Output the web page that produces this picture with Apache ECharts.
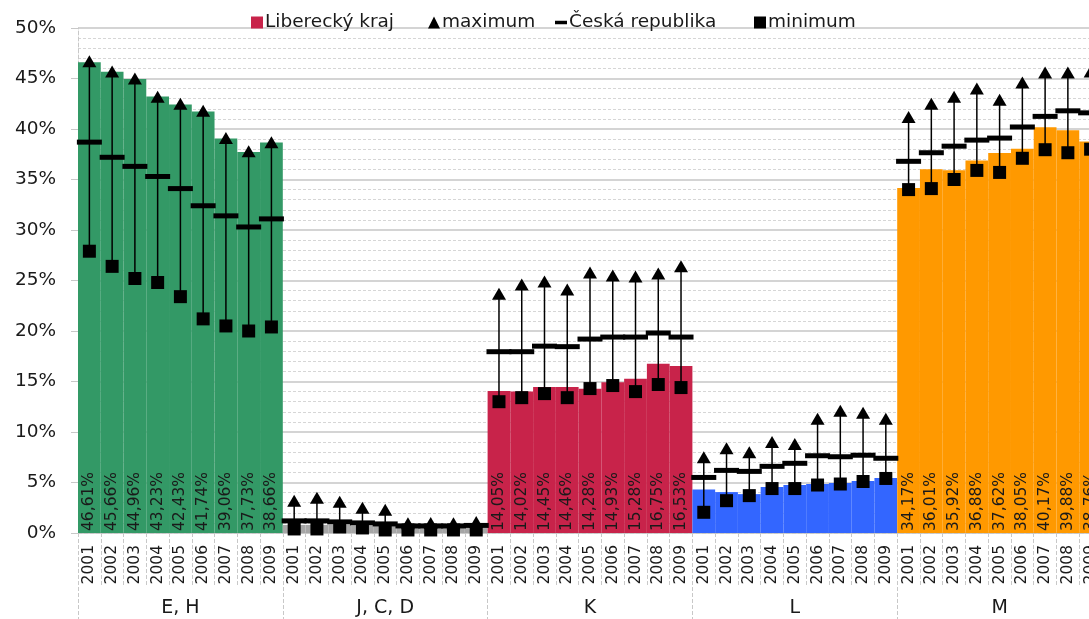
<!DOCTYPE html>
<html><head><meta charset="utf-8">
<script src="https://cdn.jsdelivr.net/npm/echarts@6/dist/echarts.min.js"></script>
<style>html,body{margin:0;padding:0;background:#fff;overflow:hidden}#c{width:1160px;height:619px}</style>
</head><body><div id="c"></div>
<script>
const years = ['2001','2002','2003','2004','2005','2006','2007','2008','2009'];
const groups = ['E, H','J, C, D','K','L','M'];
const yTicks = [0,5,10,15,20,25,30,35,40,45,50];
const seriesNames = ['Liberecký kraj','maximum','Česká republika','minimum'];

// Liberecký kraj
const liberec_EH  = [46.61,45.66,44.96,43.23,42.43,41.74,39.06,37.73,38.66];
const liberec_JCD = [0.8,0.8,0.8,0.7,0.7,0.5,0.5,0.5,0.5];
const liberec_K   = [14.05,14.02,14.45,14.46,14.28,14.93,15.28,16.75,16.53];
const liberec_L   = [4.3,4.05,3.85,4.55,4.75,4.85,4.95,5.15,5.45];
const liberec_M   = [34.17,36.01,35.92,36.88,37.62,38.05,40.17,39.88,38.76];

// maximum
const max_EH  = [46.7,45.7,45.0,43.2,42.5,41.8,39.1,37.8,38.7];
const max_JCD = [3.2,3.5,3.1,2.5,2.3,0.96,1.0,0.96,1.1];
const max_K   = [23.7,24.6,24.9,24.1,25.8,25.5,25.4,25.7,26.4];
const max_L   = [7.5,8.4,8.0,9.0,8.8,11.3,12.1,11.9,11.3];
const max_M   = [41.2,42.5,43.2,44.0,42.9,44.6,45.6,45.6,45.7];

// Česká republika
const cr_EH  = [38.7,37.2,36.3,35.3,34.1,32.4,31.4,30.3,31.1];
const cr_JCD = [1.2,1.2,1.1,1.0,0.9,0.7,0.7,0.7,0.75];
const cr_K   = [17.95,17.95,18.5,18.45,19.2,19.4,19.4,19.8,19.4];
const cr_L   = [5.5,6.2,6.1,6.6,6.9,7.65,7.55,7.7,7.4];
const cr_M   = [36.8,37.65,38.3,38.9,39.1,40.2,41.25,41.8,41.6];

// minimum
const min_EH  = [27.9,26.4,25.2,24.8,23.4,21.2,20.5,20.0,20.4];
const min_JCD = [0.4,0.4,0.6,0.5,0.3,0.3,0.3,0.3,0.3];
const min_K   = [13.0,13.4,13.8,13.4,14.3,14.6,14.0,14.7,14.4];
const min_L   = [2.05,3.2,3.7,4.4,4.4,4.75,4.85,5.1,5.4];
const min_M   = [34.0,34.1,35.0,35.9,35.7,37.1,37.95,37.65,38.0];

const liberec = [liberec_EH, liberec_JCD, liberec_K, liberec_L, liberec_M];
const maxs = [max_EH, max_JCD, max_K, max_L, max_M];
const crs = [cr_EH, cr_JCD, cr_K, cr_L, cr_M];
const mins = [min_EH, min_JCD, min_K, min_L, min_M];

const groupColors = ['#339966','#a6a6a6','#c8234a','#3366ff','#ff9900'];
const labeled = [true,false,true,false,true];

const cats = [];
groups.forEach(g => years.forEach(y => cats.push(g + '|' + y)));

const barData = [], maxData = [], crData = [], minData = [], errData = [];
groups.forEach((g, gi) => {
  years.forEach((y, yi) => {
    const idx = gi * 9 + yi;
    barData.push({
      value: liberec[gi][yi],
      itemStyle: { color: groupColors[gi] },
      label: { show: labeled[gi] }
    });
    maxData.push([idx, maxs[gi][yi]]);
    crData.push([idx, crs[gi][yi]]);
    minData.push([idx, mins[gi][yi]]);
    errData.push([idx, mins[gi][yi], maxs[gi][yi]]);
  });
});

const FONT = 'DejaVu Sans';
const TXT = '#1a1a1a';
const legendIcons = [
  { icon: 'rect', itemStyle: { color: '#c8234a' } },
  { icon: 'triangle', itemStyle: { color: '#000', opacity: 1 } },
  { icon: 'path://M0,0h12v3.5h-12z', itemStyle: { color: '#000', opacity: 1 } },
  { icon: 'rect', itemStyle: { color: '#000', opacity: 1 } }
];
const legendLeft = [246, 423, 550, 749];
const legends = seriesNames.map((n, i) => ({
  top: 8, left: legendLeft[i],
  itemWidth: 12, itemHeight: 12,
  textStyle: { fontFamily: FONT, fontSize: 18.5, color: TXT, padding: [0, 0, 0, -3] },
  data: [Object.assign({ name: n }, legendIcons[i])]
}));

const chart = echarts.init(document.getElementById('c'), null, { renderer: 'canvas' });
chart.setOption({
  animation: false,
  textStyle: { fontFamily: FONT, color: TXT },
  legend: legends,
  grid: { left: 78, top: 28, width: 1024, height: 505 },
  xAxis: [{
    type: 'category', data: cats, position: 'bottom',
    axisLine: { show: true, lineStyle: { color: '#c8c8c8', type: 'dashed' } },
    axisTick: { show: true, interval: 0, alignWithLabel: false, length: 54, lineStyle: { color: '#c8c8c8', type: 'dashed' } },
    axisLabel: { interval: 0, rotate: 90, margin: 12, fontFamily: FONT, fontSize: 15.5, color: TXT,
      formatter: v => v.split('|')[1] },
    splitLine: { show: false }
  }, {
    type: 'category', data: groups, position: 'bottom',
    axisLine: { show: false },
    axisTick: { show: true, interval: 0, alignWithLabel: false, length: 90, lineStyle: { color: '#c8c8c8', type: 'dashed' } },
    axisLabel: { interval: 0, margin: 66, fontFamily: FONT, fontSize: 19, color: TXT },
    splitLine: { show: false }
  }],
  yAxis: {
    type: 'value', min: 0, max: 50, interval: 5,
    axisLine: { show: true, lineStyle: { color: '#c8c8c8', type: 'dashed' } },
    axisTick: { show: true, length: 7, lineStyle: { color: '#c8c8c8' } },
    axisLabel: { fontFamily: FONT, fontSize: 18.5, color: TXT, margin: 22, formatter: '{value}%' },
    splitLine: { show: true, lineStyle: { color: '#c6c6c6', width: 1.5 } },
    minorTick: { show: false, splitNumber: 5 },
    minorSplitLine: { show: true, lineStyle: { color: '#d6d6d6', type: [3, 2] } }
  },
  series: [
    {
      name: seriesNames[0], type: 'bar', xAxisIndex: 0, barCategoryGap: '0%',
      itemStyle: { color: '#c8234a' },
      data: barData,
      label: {
        show: true, position: 'insideBottom', rotate: 90, align: 'left', verticalAlign: 'middle',
        distance: 2, fontFamily: FONT, fontSize: 15.5, color: TXT,
        formatter: p => p.value.toFixed(2).replace('.', ',') + '%'
      },
      z: 1
    },
    {
      name: 'err', type: 'custom', xAxisIndex: 0, data: errData, z: 2,
      renderItem: (params, api) => {
        const x = api.value(0);
        const p1 = api.coord([x, api.value(1)]);
        const p2 = api.coord([x, api.value(2)]);
        return { type: 'line', shape: { x1: p1[0], y1: p1[1], x2: p2[0], y2: p2[1] },
          style: { stroke: '#000', lineWidth: 1.5 } };
      },
      encode: { x: 0, y: [1, 2] }
    },
    {
      name: seriesNames[1], type: 'scatter', xAxisIndex: 0, data: maxData, z: 3,
      symbol: 'triangle', symbolSize: [14, 12], itemStyle: { color: '#000', opacity: 1 }
    },
    {
      name: seriesNames[2], type: 'scatter', xAxisIndex: 0, data: crData, z: 4,
      symbol: 'rect', symbolSize: [25, 5], itemStyle: { color: '#000', opacity: 1 }
    },
    {
      name: seriesNames[3], type: 'scatter', xAxisIndex: 0, data: minData, z: 3,
      symbol: 'rect', symbolSize: [13, 13], itemStyle: { color: '#000', opacity: 1 }
    }
  ]
});
</script></body></html>
